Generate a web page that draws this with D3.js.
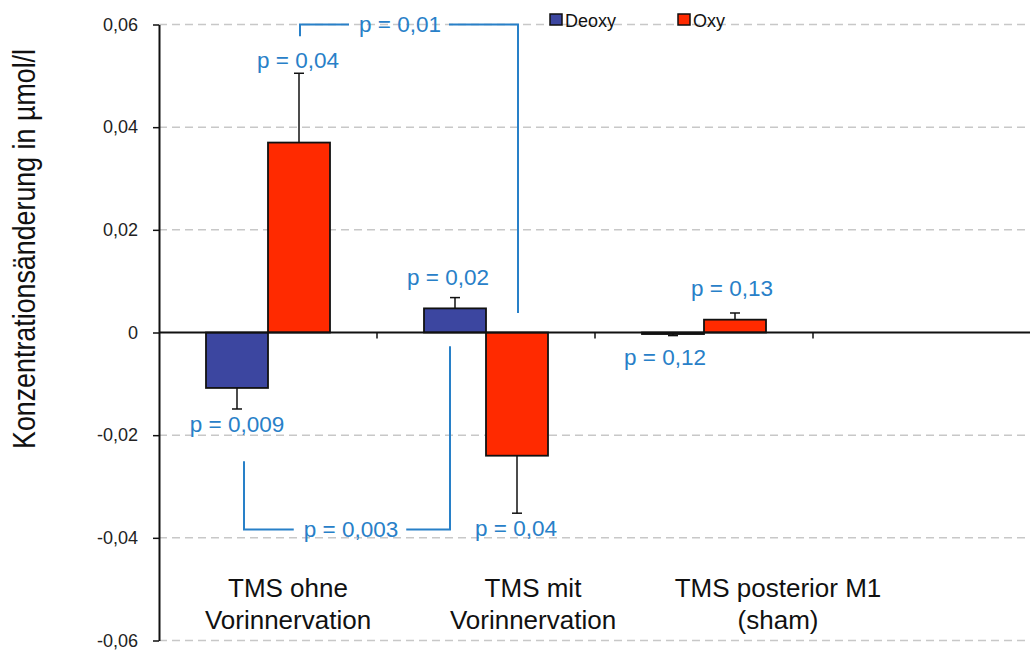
<!DOCTYPE html>
<html>
<head>
<meta charset="utf-8">
<script src="https://cdn.jsdelivr.net/npm/d3@7/dist/d3.min.js"></script>
<style>
  html, body { margin: 0; padding: 0; background: #fff; }
  svg { display: block; font-family: "Liberation Sans", Arial, sans-serif; }
</style>
</head>
<body>
<svg id="chart" width="1030" height="651"></svg>
<script>
// Categories (one line per array entry) plus an empty fourth slot on the axis
const categoryLines = [
  ["TMS ohne", "Vorinnervation"],
  ["TMS mit", "Vorinnervation"],
  ["TMS posterior M1", "(sham)"]
];
const slots = [0, 1, 2, 3];
const seriesNames = ["Deoxy", "Oxy"];

// Mean concentration change (µmol/l) and one-sided error
const deoxyValues = [-0.0108, 0.0047, -0.0003];
const oxyValues   = [0.0370, -0.0240, 0.0025];
const deoxyErrors = [0.0041, 0.0021, 0.0003];
const oxyErrors   = [0.0135, 0.0112, 0.0013];

// p-values printed next to each bar
const deoxyP = ["p = 0,009", "p = 0,02", "p = 0,12"];
const oxyP   = ["p = 0,04", "p = 0,04", "p = 0,13"];

// Between-condition comparisons
const comparisonLabels = ["p = 0,01", "p = 0,003"];

const yTicks = [-0.06, -0.04, -0.02, 0, 0.02, 0.04, 0.06];

const colors = { Deoxy: "#3c46a0", Oxy: "#ff2a00" };
const pColor = "#2880c8";

const svg = d3.select("#chart");

const x = d3.scaleBand().domain(slots).range([159, 1031]).paddingInner(0).paddingOuter(0);
const xs = d3.scaleBand().domain(seriesNames).range([0, x.bandwidth()]).paddingInner(0).paddingOuter(0.758);
const y = d3.scaleLinear().domain([-0.06, 0.06]).range([640.5, 24.5]);

const rows = [];
categoryLines.forEach((c, i) => {
  rows.push({ cat: i, series: "Deoxy", value: deoxyValues[i], err: deoxyErrors[i], p: deoxyP[i] });
  rows.push({ cat: i, series: "Oxy", value: oxyValues[i], err: oxyErrors[i], p: oxyP[i] });
});
const cx = d => x(d.cat) + xs(d.series) + xs.bandwidth() / 2;

// Grid lines
svg.append("g").selectAll("line")
  .data(yTicks.filter(t => t !== 0))
  .join("line")
  .attr("x1", 159).attr("x2", 1030)
  .attr("y1", d => y(d)).attr("y2", d => y(d))
  .attr("stroke", "#c8c8c8").attr("stroke-width", 1.5)
  .attr("stroke-dasharray", "8,5");

// Bracket layer sits under the text
const bracketLayer = svg.append("g");

// Y axis
const fmt = d => d === 0 ? "0" : d3.format(".2f")(d).replace("−", "-").replace(".", ",");
const yAxis = svg.append("g")
  .attr("transform", "translate(159,0)")
  .call(d3.axisLeft(y).tickValues(yTicks).tickFormat(fmt).tickSize(6).tickSizeOuter(0).tickPadding(15));
yAxis.select(".domain").attr("stroke", "#111").attr("stroke-width", 2);
yAxis.selectAll(".tick line").attr("stroke", "#111").attr("stroke-width", 1.5);
yAxis.selectAll(".tick text")
  .attr("font-size", 18).attr("fill", "#222")
  .attr("font-family", "Liberation Sans, Arial, sans-serif");

// Y axis title
svg.append("text")
  .attr("transform", "translate(35,249) rotate(-90)")
  .attr("text-anchor", "middle")
  .attr("font-size", 31)
  .attr("textLength", 400)
  .attr("lengthAdjust", "spacingAndGlyphs")
  .attr("fill", "#111")
  .text("Konzentrationsänderung in µmol/l");

// Bars
svg.append("g").selectAll("rect")
  .data(rows)
  .join("rect")
  .attr("x", d => x(d.cat) + xs(d.series))
  .attr("width", xs.bandwidth())
  .attr("y", d => y(Math.max(0, d.value)))
  .attr("height", d => Math.abs(y(d.value) - y(0)))
  .attr("fill", d => colors[d.series])
  .attr("stroke", "#111").attr("stroke-width", 1.8);

// Zero line with slot separators
svg.append("line")
  .attr("x1", 159).attr("x2", 1030)
  .attr("y1", y(0)).attr("y2", y(0))
  .attr("stroke", "#111").attr("stroke-width", 1.8);
svg.append("g").selectAll("line")
  .data(slots.slice(1))
  .join("line")
  .attr("x1", d => x(d)).attr("x2", d => x(d))
  .attr("y1", y(0)).attr("y2", y(0) + 6)
  .attr("stroke", "#111").attr("stroke-width", 1.5);

// Error bars (away from zero)
const errEnd = d => d.value >= 0 ? d.value + d.err : d.value - d.err;
const eb = svg.append("g").attr("stroke", "#111").attr("stroke-width", 1.5);
eb.selectAll("line.v").data(rows).join("line").attr("class", "v")
  .attr("x1", cx).attr("x2", cx)
  .attr("y1", d => y(d.value)).attr("y2", d => y(errEnd(d)));
eb.selectAll("line.c").data(rows).join("line").attr("class", "c")
  .attr("x1", d => cx(d) - 5).attr("x2", d => cx(d) + 5)
  .attr("y1", d => y(errEnd(d))).attr("y2", d => y(errEnd(d)));

// p-value labels: nudges relative to the error bar end
const pNudge = {
  "0-Deoxy": [0, 23], "0-Oxy": [-1, -5],
  "1-Deoxy": [-7, -13], "1-Oxy": [-1, 23],
  "2-Deoxy": [-8, 29], "2-Oxy": [-3, -17]
};
svg.append("g").selectAll("text")
  .data(rows)
  .join("text")
  .attr("x", d => cx(d) + pNudge[d.cat + "-" + d.series][0])
  .attr("y", d => y(errEnd(d)) + pNudge[d.cat + "-" + d.series][1])
  .attr("text-anchor", "middle")
  .attr("font-size", 22.5)
  .attr("fill", pColor)
  .text(d => d.p);

// Comparison brackets: from bar, to bar, bracket level, leg ends
const rowOf = (c, s) => rows.find(r => r.cat === c && r.series === s);
const brackets = [
  { a: rowOf(0, "Oxy"), b: rowOf(1, "Oxy"), level: 0.06, endA: 0.0577, endB: 0.0038, shift: -9, label: comparisonLabels[0] },
  { a: rowOf(0, "Deoxy"), b: rowOf(1, "Deoxy"), level: -0.0384, endA: -0.0251, endB: -0.0027, shift: 4, label: comparisonLabels[1] }
];
brackets.forEach(br => {
  const xa = cx(br.a) + (br.a.series === "Deoxy" ? 7 : 1);
  const xb = cx(br.b) + (br.b.series === "Deoxy" ? -5 : 1);
  const yl = y(br.level);
  const mid = (xa + xb) / 2 + br.shift;
  const t = svg.append("text")
    .attr("x", mid).attr("y", yl + 7)
    .attr("text-anchor", "middle")
    .attr("font-size", 22.5)
    .attr("fill", pColor)
    .text(br.label);
  const half = t.node().getComputedTextLength() / 2;
  const path = d3.path();
  path.moveTo(xa, y(br.endA));
  path.lineTo(xa, yl);
  path.lineTo(mid - half - 10, yl);
  path.moveTo(mid + half + 8, yl);
  path.lineTo(xb, yl);
  path.lineTo(xb, y(br.endB));
  bracketLayer.append("path")
    .attr("d", path.toString())
    .attr("fill", "none")
    .attr("stroke", pColor).attr("stroke-width", 2);
});

// Category labels
const xl = d3.scalePoint().domain([0, 1, 2]).range([288, 778]);
const cat = svg.append("g").selectAll("text")
  .data(categoryLines)
  .join("text")
  .attr("text-anchor", "middle")
  .attr("font-size", 26)
  .attr("fill", "#111");
cat.selectAll("tspan")
  .data((d, i) => d.map(line => ({ line, i })))
  .join("tspan")
  .attr("x", d => xl(d.i))
  .attr("y", (d, j) => 597 + j * 31.5)
  .text(d => d.line);

// Legend
const leg = svg.append("g").selectAll("g")
  .data(seriesNames)
  .join("g")
  .attr("transform", (d, i) => `translate(${550 + i * 128},14)`);
leg.append("rect")
  .attr("width", 12).attr("height", 11)
  .attr("fill", d => colors[d])
  .attr("stroke", "#111").attr("stroke-width", 1.5);
leg.append("text")
  .attr("x", 15).attr("y", 12.5)
  .attr("font-size", 18)
  .attr("fill", "#111")
  .text(d => d);
</script>
</body>
</html>
